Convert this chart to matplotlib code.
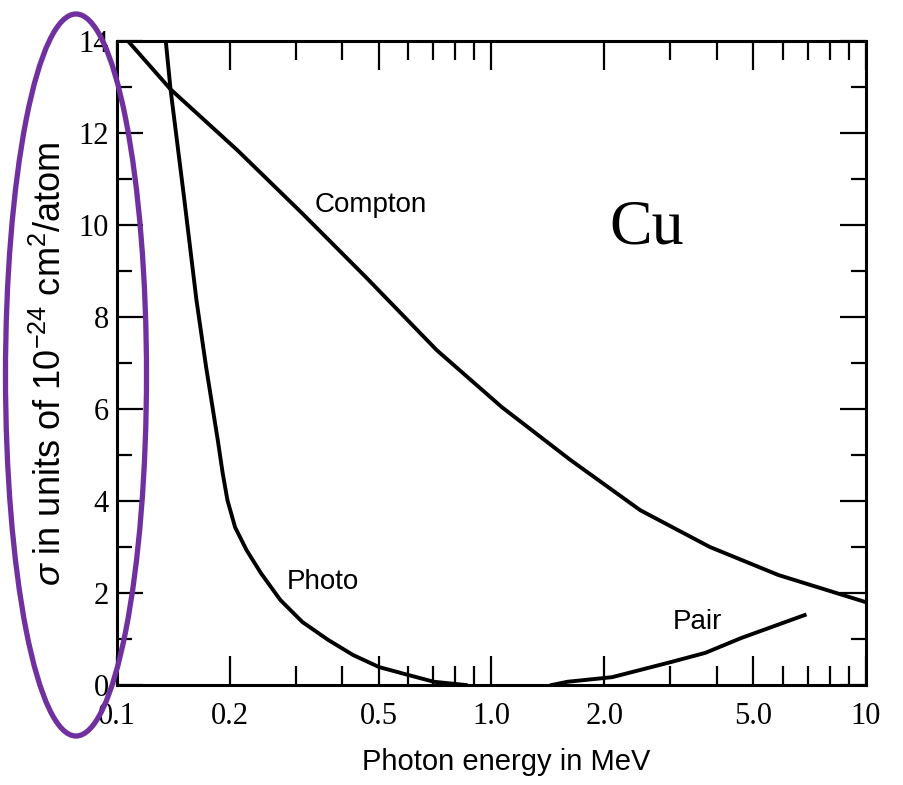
"""Cu photon cross sections (Compton / photoelectric / pair) vs photon energy."""
import matplotlib
matplotlib.use("Agg")
import matplotlib.pyplot as plt
from matplotlib.patches import Ellipse
from matplotlib.ticker import FixedLocator, NullFormatter

# values (energy in MeV, sigma in 1e-24 cm^2/atom)
compton_e = [0.107, 0.139, 0.210, 0.3126, 0.464, 0.714, 1.066, 1.626, 2.496, 3.83, 5.84, 10.0]
compton_s = [14.0, 12.95, 11.62, 10.25, 8.85, 7.28, 6.04, 4.89, 3.80, 3.00, 2.39, 1.80]

photo_e = [0.135, 0.139, 0.151, 0.163, 0.173, 0.1858, 0.1915, 0.1972, 0.2067, 0.2219,
           0.2424, 0.2729, 0.3126, 0.3664, 0.4274, 0.501, 0.598, 0.702, 0.853]
photo_s = [14.0, 12.95, 10.61, 8.37, 6.91, 5.33, 4.61, 4.02, 3.43, 2.93,
           2.43, 1.85, 1.37, 0.98, 0.65, 0.39, 0.22, 0.07, 0.0]

pair_e = [1.45, 1.596, 2.10, 3.02, 3.73, 4.64, 6.86]
pair_s = [0.0, 0.07, 0.17, 0.50, 0.70, 1.02, 1.52]

x_major = [0.1, 0.2, 0.5, 1.0, 2.0, 5.0, 10.0]
x_labels = ["0.1", "0.2", "0.5", "1.0", "2.0", "5.0", "10"]
x_minor = [0.3, 0.4, 0.6, 0.7, 0.8, 0.9, 3, 4, 6, 7, 8, 9]
y_major = [0, 2, 4, 6, 8, 10, 12, 14]
y_minor = [1, 3, 5, 7, 9, 11, 13]

SANS = ["Liberation Sans", "DejaVu Sans"]
SERIF = ["Liberation Serif", "DejaVu Serif"]

plt.rcParams["mathtext.fontset"] = "custom"
plt.rcParams["mathtext.rm"] = "Liberation Sans"
plt.rcParams["mathtext.it"] = "Liberation Sans:italic"

fig = plt.figure(figsize=(9.04, 7.85), dpi=100)
ax = fig.add_axes([0.1294, 0.1274, 0.8285, 0.8204])

lw = 2.8
for xs, ys in [(compton_e, compton_s), (photo_e, photo_s), (pair_e, pair_s)]:
    ax.plot(xs, ys, color="black", lw=lw, solid_joinstyle="round")

ax.set_xscale("log")
ax.set_xlim(0.1, 10)
ax.set_ylim(0, 14)

ax.xaxis.set_major_locator(FixedLocator(x_major))
ax.xaxis.set_minor_locator(FixedLocator(x_minor))
ax.xaxis.set_minor_formatter(NullFormatter())
ax.set_xticklabels(x_labels)
ax.yaxis.set_major_locator(FixedLocator(y_major))
ax.yaxis.set_minor_locator(FixedLocator(y_minor))
ax.set_yticklabels([str(v) for v in y_major])

ax.tick_params(axis="x", which="major", direction="in", length=21, width=1.6,
               top=True, bottom=True, pad=12, labelsize=22,
               labelfontfamily="Liberation Serif")
ax.tick_params(axis="x", which="minor", direction="in", length=14, width=1.6,
               top=True, bottom=True)
ax.tick_params(axis="y", which="major", direction="in", length=19, width=1.6,
               left=True, right=True, pad=6, labelsize=22,
               labelfontfamily="Liberation Serif")
ax.tick_params(axis="y", which="minor", direction="in", length=11, width=1.6,
               left=True, right=True)
for sp in ax.spines.values():
    sp.set_linewidth(2.2)

# curve labels
ax.text(0.475, 10.43, "Compton", fontfamily=SANS, fontsize=20, ha="center", va="center")
ax.text(0.354, 2.23, "Photo", fontfamily=SANS, fontsize=20, ha="center", va="center")
ax.text(3.55, 1.37, "Pair", fontfamily=SANS, fontsize=20, ha="center", va="center")
ax.text(2.6, 9.93, "Cu", fontfamily=SERIF, fontsize=46, ha="center", va="center")

fig.text(506 / 904, 1 - 762 / 785, "Photon energy in MeV", fontfamily=SANS,
         fontsize=21, ha="center", va="center")
fig.text(51 / 904, 1 - 364 / 785,
         r"$\sigma$ in units of 10$^{-24}$ cm$^{2}$/atom",
         fontfamily=SANS, fontsize=26, rotation=90,
         ha="center", va="center")

# purple highlight around the y axis
fig.add_artist(Ellipse((76 / 904, 1 - 375 / 785), 141 / 904, 722 / 785,
                       transform=fig.transFigure, fill=False,
                       edgecolor="#7030A0", lw=3.8, zorder=5))

fig.savefig("out.png", dpi=100)
